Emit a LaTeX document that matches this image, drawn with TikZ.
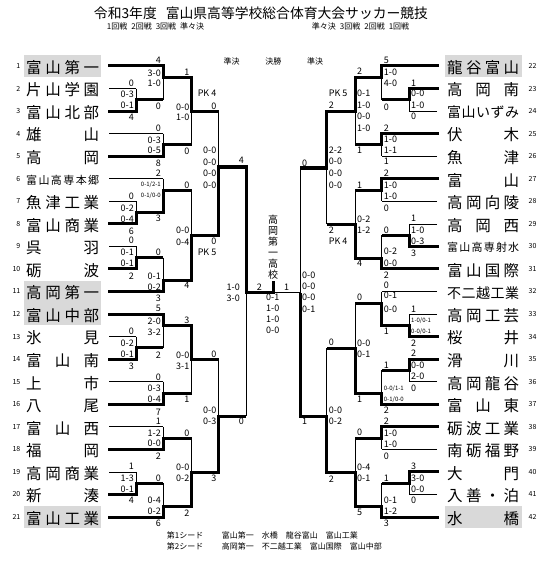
\documentclass[tikz,border=0pt]{standalone}
\usepackage{fontspec}
\setmainfont{Noto Sans CJK JP}
\usepackage{tikz}
\definecolor{SeedGray}{HTML}{D9D9D9}

\newcounter{labcnt}
\newcommand{\minifont}{\fontsize{6}{7}\selectfont}
\newcommand{\scL}[3]{\stepcounter{labcnt}\node[score,anchor=east] (lab\arabic{labcnt}) at (#1-2,#2) {#3};}
\newcommand{\scR}[3]{\stepcounter{labcnt}\node[score,anchor=west] (lab\arabic{labcnt}) at (#1+2,#2) {#3};}
% x, top, bottom, junction, winner y, next x, stub side
\newcommand{\bmatch}[7]{\draw[loser] (#1,#2) -- (#1,#3);
  \draw[winner] (#1#7,#5) -- (#1,#5) -- (#1,#4) -- (#6,#4);}

\begin{document}
\begin{tikzpicture}[
  x=1pt, y=-1pt,
  loser/.style={line width=0.7pt},
  winner/.style={line width=3pt,line join=miter},
  tline/.style={line width=0.7pt},
  wline/.style={line width=3pt,line cap=rect},
  score/.style={inner sep=0pt,font=\fontsize{9}{10}\selectfont},
  seed/.style={inner sep=0pt,font=\fontsize{7}{8}\selectfont},
  tname/.style={inner sep=0pt,font=\fontsize{15.5}{17}\selectfont},
  head/.style={inner sep=0pt,font=\fontsize{8}{9}\selectfont}
]
  \useasboundingbox (0,0) rectangle (551,564);

  % title and headings
  \node[inner sep=0pt,font=\fontsize{13.8}{15}\selectfont] (title) at (261,13.5) {令和3年度\hspace{9pt}富山県高等学校総合体育大会サッカー競技};
  \node[head,anchor=west] (roundsL) at (106.7,26.7) {1回戦\hspace{4pt}2回戦\hspace{4pt}3回戦\hspace{4pt}準々決};
  \node[head,anchor=west] (roundsR) at (311.7,26.7) {準々決\hspace{4pt}3回戦\hspace{4pt}2回戦\hspace{4pt}1回戦};
  \node[head] (sfL) at (231.7,61.7) {準決};
  \node[head] (fin) at (273.3,61.7) {決勝};
  \node[head] (sfR) at (315,61.7) {準決};

  % seeded teams
  \fill[SeedGray] (24,55) rectangle (101,77);
  \fill[SeedGray] (24,280.5) rectangle (101,325);
  \fill[SeedGray] (24,506) rectangle (101,528);
  \fill[SeedGray] (445,55) rectangle (521.7,77);
  \fill[SeedGray] (445,506) rectangle (521.7,528);

  % left teams
  \node[seed,anchor=east] (n1) at (20.5,66) {1};
  \node[seed,anchor=east] (n2) at (20.5,88.55) {2};
  \node[seed,anchor=east] (n3) at (20.5,111.1) {3};
  \node[seed,anchor=east] (n4) at (20.5,133.65) {4};
  \node[seed,anchor=east] (n5) at (20.5,156.2) {5};
  \node[seed,anchor=east] (n6) at (20.5,178.75) {6};
  \node[seed,anchor=east] (n7) at (20.5,201.3) {7};
  \node[seed,anchor=east] (n8) at (20.5,223.85) {8};
  \node[seed,anchor=east] (n9) at (20.5,246.4) {9};
  \node[seed,anchor=east] (n10) at (20.5,268.95) {10};
  \node[seed,anchor=east] (n11) at (20.5,291.5) {11};
  \node[seed,anchor=east] (n12) at (20.5,314.05) {12};
  \node[seed,anchor=east] (n13) at (20.5,336.6) {13};
  \node[seed,anchor=east] (n14) at (20.5,359.15) {14};
  \node[seed,anchor=east] (n15) at (20.5,381.7) {15};
  \node[seed,anchor=east] (n16) at (20.5,404.25) {16};
  \node[seed,anchor=east] (n17) at (20.5,426.8) {17};
  \node[seed,anchor=east] (n18) at (20.5,449.35) {18};
  \node[seed,anchor=east] (n19) at (20.5,471.9) {19};
  \node[seed,anchor=east] (n20) at (20.5,494.45) {20};
  \node[seed,anchor=east] (n21) at (20.5,517) {21};

  \node[tname,anchor=west] (t1) at (26,67.5) {\makebox[73pt][s]{富\hfill 山\hfill 第\hfill 一}};
  \node[tname,anchor=west] (t2) at (26,90) {\makebox[73pt][s]{片\hfill 山\hfill 学\hfill 園}};
  \node[tname,anchor=west] (t3) at (26,112.6) {\makebox[73pt][s]{富\hfill 山\hfill 北\hfill 部}};
  \node[tname,anchor=west] (t4) at (26,135.1) {\makebox[73pt][s]{雄\hfill 山}};
  \node[tname,anchor=west] (t5) at (26,157.7) {\makebox[73pt][s]{高\hfill 岡}};
  \node[tname,anchor=west,font=\fontsize{11}{12}\selectfont] (t6) at (26,180) {\makebox[73pt][s]{富\hfill 山\hfill 高\hfill 専\hfill 本\hfill 郷}};
  \node[tname,anchor=west] (t7) at (26,202.8) {\makebox[73pt][s]{魚\hfill 津\hfill 工\hfill 業}};
  \node[tname,anchor=west] (t8) at (26,225.3) {\makebox[73pt][s]{富\hfill 山\hfill 商\hfill 業}};
  \node[tname,anchor=west] (t9) at (26,247.9) {\makebox[73pt][s]{呉\hfill 羽}};
  \node[tname,anchor=west] (t10) at (26,270.4) {\makebox[73pt][s]{砺\hfill 波}};
  \node[tname,anchor=west] (t11) at (26,293) {\makebox[73pt][s]{高\hfill 岡\hfill 第\hfill 一}};
  \node[tname,anchor=west] (t12) at (26,315.5) {\makebox[73pt][s]{富\hfill 山\hfill 中\hfill 部}};
  \node[tname,anchor=west] (t13) at (26,338.1) {\makebox[73pt][s]{氷\hfill 見}};
  \node[tname,anchor=west] (t14) at (26,360.6) {\makebox[73pt][s]{富\hfill 山\hfill 南}};
  \node[tname,anchor=west] (t15) at (26,383.2) {\makebox[73pt][s]{上\hfill 市}};
  \node[tname,anchor=west] (t16) at (26,405.7) {\makebox[73pt][s]{八\hfill 尾}};
  \node[tname,anchor=west] (t17) at (26,428.3) {\makebox[73pt][s]{富\hfill 山\hfill 西}};
  \node[tname,anchor=west] (t18) at (26,450.8) {\makebox[73pt][s]{福\hfill 岡}};
  \node[tname,anchor=west] (t19) at (26,473.4) {\makebox[73pt][s]{高\hfill 岡\hfill 商\hfill 業}};
  \node[tname,anchor=west] (t20) at (26,495.9) {\makebox[73pt][s]{新\hfill 湊}};
  \node[tname,anchor=west] (t21) at (26,518.5) {\makebox[73pt][s]{富\hfill 山\hfill 工\hfill 業}};

  % right teams
  \node[seed,anchor=west] (n22) at (528.5,66) {22};
  \node[seed,anchor=west] (n23) at (528.5,88.55) {23};
  \node[seed,anchor=west] (n24) at (528.5,111.1) {24};
  \node[seed,anchor=west] (n25) at (528.5,133.65) {25};
  \node[seed,anchor=west] (n26) at (528.5,156.2) {26};
  \node[seed,anchor=west] (n27) at (528.5,178.75) {27};
  \node[seed,anchor=west] (n28) at (528.5,201.3) {28};
  \node[seed,anchor=west] (n29) at (528.5,223.85) {29};
  \node[seed,anchor=west] (n30) at (528.5,246.4) {30};
  \node[seed,anchor=west] (n31) at (528.5,268.95) {31};
  \node[seed,anchor=west] (n32) at (528.5,291.5) {32};
  \node[seed,anchor=west] (n33) at (528.5,314.05) {33};
  \node[seed,anchor=west] (n34) at (528.5,336.6) {34};
  \node[seed,anchor=west] (n35) at (528.5,359.15) {35};
  \node[seed,anchor=west] (n36) at (528.5,381.7) {36};
  \node[seed,anchor=west] (n37) at (528.5,404.25) {37};
  \node[seed,anchor=west] (n38) at (528.5,426.8) {38};
  \node[seed,anchor=west] (n39) at (528.5,449.35) {39};
  \node[seed,anchor=west] (n40) at (528.5,471.9) {40};
  \node[seed,anchor=west] (n41) at (528.5,494.45) {41};
  \node[seed,anchor=west] (n42) at (528.5,517) {42};

  \node[tname,anchor=west] (t22) at (447,67.5) {\makebox[72pt][s]{龍\hfill 谷\hfill 富\hfill 山}};
  \node[tname,anchor=west] (t23) at (447,90) {\makebox[72pt][s]{高\hfill 岡\hfill 南}};
  \node[tname,anchor=west,font=\fontsize{14}{15}\selectfont] (t24) at (447,112.6) {\makebox[72pt][s]{富\hfill 山\hfill い\hfill ず\hfill み}};
  \node[tname,anchor=west] (t25) at (447,135.1) {\makebox[72pt][s]{伏\hfill 木}};
  \node[tname,anchor=west] (t26) at (447,157.7) {\makebox[72pt][s]{魚\hfill 津}};
  \node[tname,anchor=west] (t27) at (447,180.2) {\makebox[72pt][s]{富\hfill 山}};
  \node[tname,anchor=west] (t28) at (447,202.8) {\makebox[72pt][s]{高\hfill 岡\hfill 向\hfill 陵}};
  \node[tname,anchor=west] (t29) at (447,225.3) {\makebox[72pt][s]{高\hfill 岡\hfill 西}};
  \node[tname,anchor=west,font=\fontsize{11}{12}\selectfont] (t30) at (447,247.4) {\makebox[72pt][s]{富\hfill 山\hfill 高\hfill 専\hfill 射\hfill 水}};
  \node[tname,anchor=west] (t31) at (447,270.4) {\makebox[72pt][s]{富\hfill 山\hfill 国\hfill 際}};
  \node[tname,anchor=west,font=\fontsize{14}{15}\selectfont] (t32) at (447,293) {\makebox[72pt][s]{不\hfill 二\hfill 越\hfill 工\hfill 業}};
  \node[tname,anchor=west] (t33) at (447,315.5) {\makebox[72pt][s]{高\hfill 岡\hfill 工\hfill 芸}};
  \node[tname,anchor=west] (t34) at (447,338.1) {\makebox[72pt][s]{桜\hfill 井}};
  \node[tname,anchor=west] (t35) at (447,360.6) {\makebox[72pt][s]{滑\hfill 川}};
  \node[tname,anchor=west] (t36) at (447,383.2) {\makebox[72pt][s]{高\hfill 岡\hfill 龍\hfill 谷}};
  \node[tname,anchor=west] (t37) at (447,405.7) {\makebox[72pt][s]{富\hfill 山\hfill 東}};
  \node[tname,anchor=west] (t38) at (447,428.3) {\makebox[72pt][s]{砺\hfill 波\hfill 工\hfill 業}};
  \node[tname,anchor=west] (t39) at (447,450.8) {\makebox[72pt][s]{南\hfill 砺\hfill 福\hfill 野}};
  \node[tname,anchor=west] (t40) at (447,473.4) {\makebox[72pt][s]{大\hfill 門}};
  \node[tname,anchor=west] (t41) at (447,495.9) {\makebox[72pt][s]{入\hfill 善\hfill ・\hfill 泊}};
  \node[tname,anchor=west] (t42) at (447,518.5) {\makebox[72pt][s]{水\hfill 橋}};

  % left team lines
  \draw[wline] (109,66) -- (163,66);
  \draw[tline] (109,88.55) -- (136,88.55);
  \draw[wline] (109,111.1) -- (136,111.1);
  \draw[tline] (109,133.65) -- (163,133.65);
  \draw[wline] (109,156.2) -- (163,156.2);
  \draw[tline] (109,178.75) -- (163,178.75);
  \draw[tline] (109,201.3) -- (136,201.3);
  \draw[wline] (109,223.85) -- (136,223.85);
  \draw[tline] (109,246.4) -- (136,246.4);
  \draw[wline] (109,268.95) -- (136,268.95);
  \draw[wline] (109,291.5) -- (163,291.5);
  \draw[wline] (109,314.05) -- (163,314.05);
  \draw[tline] (109,336.6) -- (136,336.6);
  \draw[wline] (109,359.15) -- (136,359.15);
  \draw[tline] (109,381.7) -- (163,381.7);
  \draw[wline] (109,404.25) -- (163,404.25);
  \draw[tline] (109,426.8) -- (163,426.8);
  \draw[wline] (109,449.35) -- (163,449.35);
  \draw[tline] (109,471.9) -- (136,471.9);
  \draw[wline] (109,494.45) -- (136,494.45);
  \draw[wline] (109,517) -- (163,517);

  % right team lines
  \draw[wline] (437,66) -- (381.7,66);
  \draw[wline] (437,88.55) -- (409,88.55);
  \draw[tline] (437,111.1) -- (409,111.1);
  \draw[wline] (437,133.65) -- (381.7,133.65);
  \draw[tline] (437,156.2) -- (381.7,156.2);
  \draw[wline] (437,178.75) -- (381.7,178.75);
  \draw[tline] (437,201.3) -- (381.7,201.3);
  \draw[tline] (437,223.85) -- (409,223.85);
  \draw[wline] (437,246.4) -- (409,246.4);
  \draw[wline] (437,268.95) -- (381.7,268.95);
  \draw[tline] (437,291.5) -- (381.7,291.5);
  \draw[tline] (437,314.05) -- (409,314.05);
  \draw[wline] (437,336.6) -- (409,336.6);
  \draw[wline] (437,359.15) -- (409,359.15);
  \draw[tline] (437,381.7) -- (409,381.7);
  \draw[wline] (437,404.25) -- (381.7,404.25);
  \draw[wline] (437,426.8) -- (381.7,426.8);
  \draw[tline] (437,449.35) -- (381.7,449.35);
  \draw[wline] (437,471.9) -- (409,471.9);
  \draw[tline] (437,494.45) -- (409,494.45);
  \draw[wline] (437,517) -- (381.7,517);

  % left bracket
  \bmatch{136}{88.55}{111.1}{99.8}{111.1}{163}{-1.5}
  \bmatch{163}{66}{99.8}{78}{66}{191.5}{-1.5}
  \bmatch{163}{133.65}{156.2}{144.9}{156.2}{191.5}{-1.5}
  \bmatch{191.5}{78}{144.9}{111.5}{78}{218.5}{-1.5}
  \bmatch{136}{201.3}{223.85}{212.6}{223.85}{163}{-1.5}
  \bmatch{163}{178.75}{212.6}{190}{212.6}{191.5}{-1.5}
  \bmatch{136}{246.4}{268.95}{257.7}{268.95}{163}{-1.5}
  \bmatch{163}{257.7}{291.5}{280}{291.5}{191.5}{-1.5}
  \bmatch{191.5}{190}{280}{235}{280}{218.5}{-1.5}
  \bmatch{218.5}{111.5}{235}{167}{235}{246}{-1.5}
  \bmatch{136}{336.6}{359.15}{347.9}{359.15}{163}{-1.5}
  \bmatch{163}{314.05}{347.9}{325.5}{314.05}{191.5}{-1.5}
  \bmatch{163}{381.7}{404.25}{393}{404.25}{191.5}{-1.5}
  \bmatch{191.5}{325.5}{393}{359.3}{325.5}{218.5}{-1.5}
  \bmatch{163}{426.8}{449.35}{438}{449.35}{191.5}{-1.5}
  \bmatch{136}{471.9}{494.45}{483.2}{494.45}{163}{-1.5}
  \bmatch{163}{483.2}{517}{506.5}{517}{191.5}{-1.5}
  \bmatch{191.5}{438}{506.5}{472.3}{506.5}{218.5}{-1.5}
  \bmatch{218.5}{359.3}{472.3}{416}{472.3}{246}{-1.5}

  % right bracket
  \bmatch{409}{88.55}{111.1}{99.8}{88.55}{381.7}{+1.5}
  \bmatch{381.7}{66}{99.8}{77.5}{66}{355}{+1.5}
  \bmatch{381.7}{133.65}{156.2}{144.9}{133.65}{355}{+1.5}
  \bmatch{355}{77.5}{144.9}{111.3}{77.5}{326.7}{+1.5}
  \bmatch{381.7}{178.75}{201.3}{190}{178.75}{355}{+1.5}
  \bmatch{409}{223.85}{246.4}{235.1}{246.4}{381.7}{+1.5}
  \bmatch{381.7}{235.1}{268.95}{258.3}{268.95}{355}{+1.5}
  \bmatch{355}{190}{258.3}{224}{258.3}{326.7}{+1.5}
  \bmatch{326.7}{111.3}{224}{168}{111.3}{300}{+1.5}
  \bmatch{409}{314.05}{336.6}{325.3}{336.6}{381.7}{+1.5}
  \bmatch{381.7}{291.5}{325.3}{303.3}{325.3}{355}{+1.5}
  \bmatch{409}{359.15}{381.7}{370.4}{359.15}{381.7}{+1.5}
  \bmatch{381.7}{370.4}{404.25}{393.3}{404.25}{355}{+1.5}
  \bmatch{355}{303.3}{393.3}{348.3}{393.3}{326.7}{+1.5}
  \bmatch{381.7}{426.8}{449.35}{438}{426.8}{355}{+1.5}
  \bmatch{409}{471.9}{494.45}{483.2}{471.9}{381.7}{+1.5}
  \bmatch{381.7}{483.2}{517}{506.5}{517}{355}{+1.5}
  \bmatch{355}{438}{506.5}{472.3}{506.5}{326.7}{+1.5}
  \bmatch{326.7}{348.3}{472.3}{416.5}{472.3}{300}{+1.5}

  % semifinals and final
  \draw[loser] (246,167) -- (246,416);
  \draw[winner] (244.5,167) -- (246,167) -- (246,292.7) -- (273,292.7) -- (273,281);
  \draw[loser] (300,168) -- (300,416.5);
  \draw[winner] (301.5,416.5) -- (300,416.5) -- (300,292.7);
  \draw[loser] (300,292.7) -- (273,292.7);
  \node[inner sep=0pt,align=center,font=\fontsize{10}{11}\selectfont] (champ) at (273,247.5) {高\\岡\\第\\一\\高\\校};
  \node[score] (finL) at (259.3,287) {2};
  \node[score] (finR) at (286.7,287) {1};
  \node[score] (fs1) at (272.7,297.5) {0-1};
  \node[score] (fs2) at (272.7,308.5) {1-0};
  \node[score] (fs3) at (272.7,319.5) {1-0};
  \node[score] (fs4) at (272.7,330.5) {0-0};

  % left scores
  \scL{136}{83}{0} \scL{136}{94}{0-3} \scL{136}{105}{0-1} \scL{136}{117}{4}
  \scL{163}{60}{4} \scL{163}{73}{3-0} \scL{163}{83.5}{1-0} \scL{163}{106}{0}
  \scL{163}{128}{0} \scL{163}{140}{0-3} \scL{163}{150}{0-5} \scL{163}{163}{8}
  \scL{191.5}{72}{1} \scL{191.5}{107}{0-0} \scL{191.5}{117}{1-0} \scL{191.5}{151}{0}
  \scL{218.5}{93}{PK 4} \scL{218.5}{106}{0}
  \scL{218.5}{150.7}{0-0} \scL{218.5}{162}{0-0} \scL{218.5}{173.4}{0-0} \scL{218.5}{184.8}{0-0}
  \scL{218.5}{241}{0} \scL{218.5}{252}{PK 5}
  \scL{136}{196}{0} \scL{136}{208}{0-2} \scL{136}{219}{0-4} \scL{136}{231}{6}
  \scL{163}{173}{2} \scL{163}{185}{\minifont 0-1/2-1} \scL{163}{196}{\minifont 0-1/0-0} \scL{163}{218}{3}
  \scL{136}{240}{0} \scL{136}{252}{0-1} \scL{136}{263.5}{0-1} \scL{136}{276}{2}
  \scL{163}{252}{0} \scL{163}{276}{0-1} \scL{163}{287}{0-2} \scL{163}{298}{3}
  \scL{191.5}{185}{0} \scL{191.5}{230}{0-0} \scL{191.5}{242}{0-4} \scL{191.5}{285}{4}
  \scL{246}{160}{4} \scL{242}{287}{1-0} \scL{242}{298.3}{3-0} \scL{246}{421.7}{0}
  \scL{136}{331}{0} \scL{136}{343}{0-2} \scL{136}{354}{0-1} \scL{136}{366}{3}
  \scL{163}{308}{5} \scL{163}{321}{2-0} \scL{163}{332}{3-2} \scL{163}{355}{2}
  \scL{163}{377}{0} \scL{163}{388.5}{0-3} \scL{163}{399}{0-4} \scL{163}{412}{7}
  \scL{191.5}{320}{3} \scL{191.5}{355}{0-0} \scL{191.5}{366}{3-1} \scL{191.5}{399}{1}
  \scL{218.5}{354}{0} \scL{218.5}{410}{0-0} \scL{218.5}{421.7}{0-3} \scL{218.5}{478}{3}
  \scL{163}{421.5}{1} \scL{163}{433}{1-2} \scL{163}{443.5}{0-0} \scL{163}{456.5}{2}
  \scL{136}{466.5}{1} \scL{136}{478}{1-3} \scL{136}{489.5}{0-1} \scL{136}{500}{4}
  \scL{163}{478}{0} \scL{163}{500}{0-4} \scL{163}{511}{0-2} \scL{163}{523}{6}
  \scL{191.5}{433}{0} \scL{191.5}{467}{0-0} \scL{191.5}{478}{0-2} \scL{191.5}{513}{2}

  % right scores
  \scR{409}{83}{1} \scR{409}{93.3}{0-0} \scR{409}{105}{1-0} \scR{409}{116.7}{0}
  \scR{381.7}{60}{5} \scR{381.7}{72.7}{1-0} \scR{381.7}{83.3}{4-0} \scR{381.7}{107.3}{0}
  \scR{381.7}{128.3}{2} \scR{381.7}{139.3}{1-0} \scR{381.7}{150}{1-1} \scR{381.7}{161.7}{1}
  \scR{355}{71.7}{2} \scR{355}{93.3}{0-1} \scR{355}{105}{1-0} \scR{355}{116.7}{0-0} \scR{355}{128.3}{1-0} \scR{355}{150}{1}
  \scR{326.7}{93.3}{PK 5} \scR{326.7}{105.5}{2}
  \scR{326.7}{150}{2-2} \scR{326.7}{161.7}{0-0} \scR{326.7}{173.3}{0-0} \scR{326.7}{185}{0-0}
  \scR{326.7}{230}{2} \scR{326.7}{241}{PK 4}
  \scR{381.7}{173.3}{2} \scR{381.7}{185}{1-0} \scR{381.7}{196}{1-0} \scR{381.7}{208.3}{0}
  \scR{409}{218.3}{1} \scR{409}{230}{1-0} \scR{409}{241}{0-3} \scR{409}{253.3}{3}
  \scR{381.7}{230}{0} \scR{381.7}{251.7}{0-2} \scR{381.7}{263.3}{0-0} \scR{381.7}{275}{2}
  \scR{355}{185}{1} \scR{355}{219.3}{0-2} \scR{355}{230}{1-2} \scR{355}{263.3}{4}
  \scR{300}{163}{0} \scR{300}{275.7}{0-0} \scR{300}{286.7}{0-0} \scR{300}{297.3}{0-0} \scR{300}{309}{0-1} \scR{300}{421.7}{1}
  \scR{409}{309.3}{1} \scR{409}{320.7}{\minifont 1-0/0-1} \scR{409}{331.7}{\minifont 0-0/0-1} \scR{409}{343.3}{2}
  \scR{381.7}{285}{0} \scR{381.7}{295}{0-1} \scR{381.7}{309.3}{0-0} \scR{381.7}{331.7}{1}
  \scR{409}{353.3}{2} \scR{409}{365}{0-0} \scR{409}{376.7}{2-0} \scR{409}{388.3}{0}
  \scR{381.7}{365}{1} \scR{381.7}{388.3}{\minifont 0-0/1-1} \scR{381.7}{399.3}{\minifont 0-1/0-0} \scR{381.7}{410}{2}
  \scR{355}{297.3}{0} \scR{355}{343.3}{0-0} \scR{355}{354.3}{0-1} \scR{355}{399.3}{1}
  \scR{326.7}{342.7}{0} \scR{326.7}{410}{0-0} \scR{326.7}{421.7}{0-2} \scR{326.7}{479.3}{2}
  \scR{381.7}{421.7}{2} \scR{381.7}{433.3}{1-0} \scR{381.7}{444.3}{1-0} \scR{381.7}{456}{0}
  \scR{409}{466}{3} \scR{409}{478.3}{3-0} \scR{409}{489.3}{0-0} \scR{409}{500}{0}
  \scR{381.7}{478.3}{1} \scR{381.7}{500}{0-1} \scR{381.7}{511.7}{1-2} \scR{381.7}{523.3}{3}
  \scR{355}{432.7}{0} \scR{355}{467.3}{0-4} \scR{355}{478.3}{0-1} \scR{355}{512.7}{5}

  % seeds
  \node[head,anchor=west] (seed1) at (166.7,535) {第1シード};
  \node[head,anchor=west] (seed1t) at (221.7,535) {富山第一　水橋　龍谷富山　富山工業};
  \node[head,anchor=west] (seed2) at (166.7,546) {第2シード};
  \node[head,anchor=west] (seed2t) at (221.7,546) {高岡第一　不二越工業　富山国際　富山中部};
\end{tikzpicture}
\end{document}
